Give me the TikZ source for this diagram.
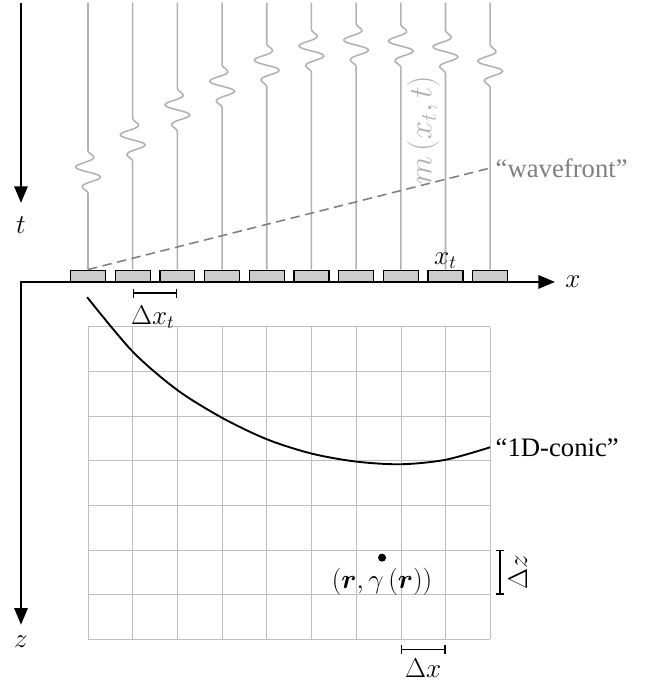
\documentclass[tikz,border=0pt]{standalone}
\usepackage{amsmath,amssymb}
\usepackage{fontspec}
\setmainfont{Liberation Serif}
\usepackage{tikz}
\usetikzlibrary{arrows.meta,positioning}

\begin{document}
\begin{tikzpicture}[>={Triangle[length=3.7mm,width=3mm]},
    trace/.style={black!30,line width=1pt},
    receiver/.style={draw,thick,fill=black!20,minimum width=0.78cm,
      minimum height=0.25cm,inner sep=0pt,anchor=south},
    bracket/.style={thick,{Bar[width=2mm]}-{Bar[width=2mm]}},
    mathlbl/.style={font=\fontsize{17}{20}\selectfont},
    txtlbl/.style={font=\fontsize{17}{20}\selectfont}]
  \useasboundingbox (-0.47,-9.02) rectangle (14.05,6.31);
  \draw[black!25,xshift=1.5cm] (0,-8) grid (9,-1);
  \coordinate (O) at (0,0);
  \node[mathlbl] (xlab) at (12.35,0) {$x$};
  \node[mathlbl] (tlab) at (0,1.28) {$t$};
  \node[mathlbl] (zlab) at (0,-8.05) {$z$};
  \draw[line width=1.1pt,->] (0,6.25) -- (0,1.77);
  \draw[line width=1.1pt,<->] (11.95,0) -- (O) -- (0,-7.67);
  \foreach \i/\c in {0/2.46,1/3.18,2/3.85,3/4.38,4/4.85,5/5.17,6/5.30,7/5.28,8/5.15,9/4.83}{
    \node[receiver] (rec\i) at (1.5+\i,0) {};
    \draw[trace] (1.5+\i,6.25) -- (1.5+\i,\c+0.48)
      -- plot[smooth,domain=0:1,samples=30]
        ({1.5+\i+0.3*sin(720*\x)*sin(180*\x)},{\c+0.48-0.96*\x})
      -- (rec\i.north);
  }
  \coordinate (wfend) at (10.5,2.55);
  \draw[black!50,line width=1pt,dash pattern=on 6pt off 3.5pt] (rec0.north) -- (wfend);
  \node[txtlbl,black!50,right=0pt of wfend] (wf) {``wavefront''};
  \node[black!30,rotate=90,font=\fontsize{21}{24}\selectfont] (mlab) at (9.0,3.40) {$m\left(x_t,t\right)$};
  \node[mathlbl,above=-3pt of rec8] (xtlab) {$x_t$};
  \draw[bracket] (2.5,-0.25) -- (3.5,-0.25);
  \node[mathlbl] (dxt) at (2.95,-0.78) {$\Delta x_t$};
  \coordinate (cend) at (10.5,-3.70);
  \draw[line width=1.2pt] plot[smooth] coordinates {(1.48,-0.34) (2.5,-1.56) (3.5,-2.42)
    (4.5,-3.04) (5.5,-3.52) (6.5,-3.84) (7.5,-4.02) (8.5,-4.08) (9.5,-3.98) (cend)};
  \node[txtlbl,right=0pt of cend] (conic) {``1D-conic''};
  \node[circle,fill,inner sep=0pt,minimum size=0.18cm] (pt) at (8.08,-6.17) {};
  \node[mathlbl] (ptlab) at (8.08,-6.71) {$(\boldsymbol{r},\gamma\left(\boldsymbol{r}\right))$};
  \draw[bracket] (10.72,-6) -- (10.72,-7);
  \node[mathlbl,rotate=90] (dz) at (11.12,-6.5) {$\Delta z$};
  \draw[bracket] (8.5,-8.23) -- (9.5,-8.23);
  \node[mathlbl] (dx) at (9,-8.64) {$\Delta x$};
\end{tikzpicture}
\end{document}
